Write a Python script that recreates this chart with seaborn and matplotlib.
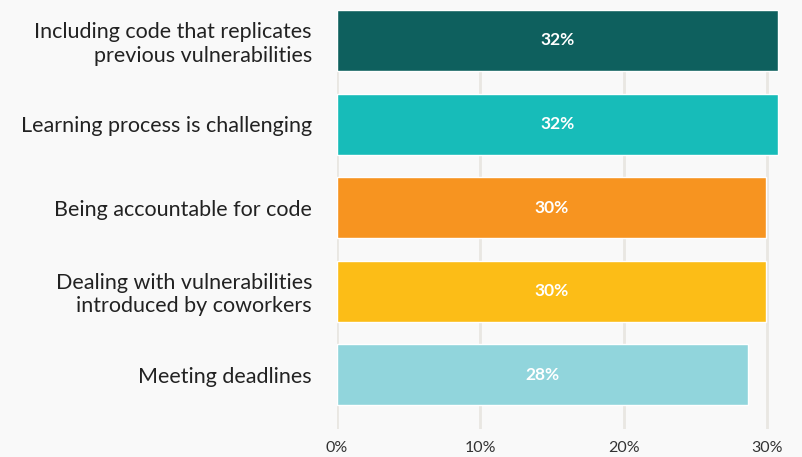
import matplotlib
matplotlib.use("Agg")
import matplotlib.pyplot as plt
import pandas as pd
import seaborn as sns

# ------------------------------------------------------------------ #
# Data                                                                 #
# ------------------------------------------------------------------ #
categories = [
    "Including code that replicates\nprevious vulnerabilities",
    "Learning process is challenging",
    "Being accountable for code",
    "Dealing with vulnerabilities\nintroduced by coworkers",
    "Meeting deadlines",
]
# bar lengths as drawn in the reference (percent)
shares = [30.8, 30.8, 29.9, 29.9, 28.7]
# labels as printed on the bars
share_labels = ["32%", "32%", "30%", "30%", "28%"]
x_ticks = [0, 10, 20, 30]
x_tick_labels = ["0%", "10%", "20%", "30%"]

COLORS = ["#0e605e", "#17bcb9", "#f79420", "#fcbd17", "#91d5dc"]
BG = "#f9f9f9"

sns.set_theme(style="white")
plt.rcParams["font.family"] = ["Lato", "DejaVu Sans"]

df = pd.DataFrame({"category": categories, "share": shares})

fig = plt.figure(figsize=(8.02, 4.57), dpi=100, facecolor=BG)
ax = fig.add_axes([337 / 802, 1 - 429 / 457, (800 - 337) / 802, (429 - 10) / 457])
ax.set_facecolor(BG)

sns.barplot(
    data=df, x="share", y="category", hue="category",
    palette=COLORS, orient="h", width=0.73, legend=False, ax=ax,
    saturation=1, zorder=2,
)

# value labels centred on each bar
for i, (v, lab) in enumerate(zip(shares, share_labels)):
    ax.text(v / 2, i, lab, ha="center", va="center", color="white",
            fontsize=12.5, fontweight="bold", zorder=3)

ax.set_xlim(0, 32.3)
ax.set_ylim(4.65, -0.365)
ax.set_xticks(x_ticks)
ax.set_xticklabels(x_tick_labels)
ax.xaxis.grid(True, color="#e9e7e2", linewidth=2, zorder=0)
ax.set_axisbelow(True)
for s in ax.spines.values():
    s.set_visible(False)
ax.tick_params(axis="x", length=0, pad=9, labelsize=11.5, labelcolor="#333333")
ax.tick_params(axis="y", length=0, pad=18, labelsize=15.5, labelcolor="#222222")
ax.set_xlabel("")
ax.set_ylabel("")

fig.savefig("out.png", dpi=100, facecolor=BG)
